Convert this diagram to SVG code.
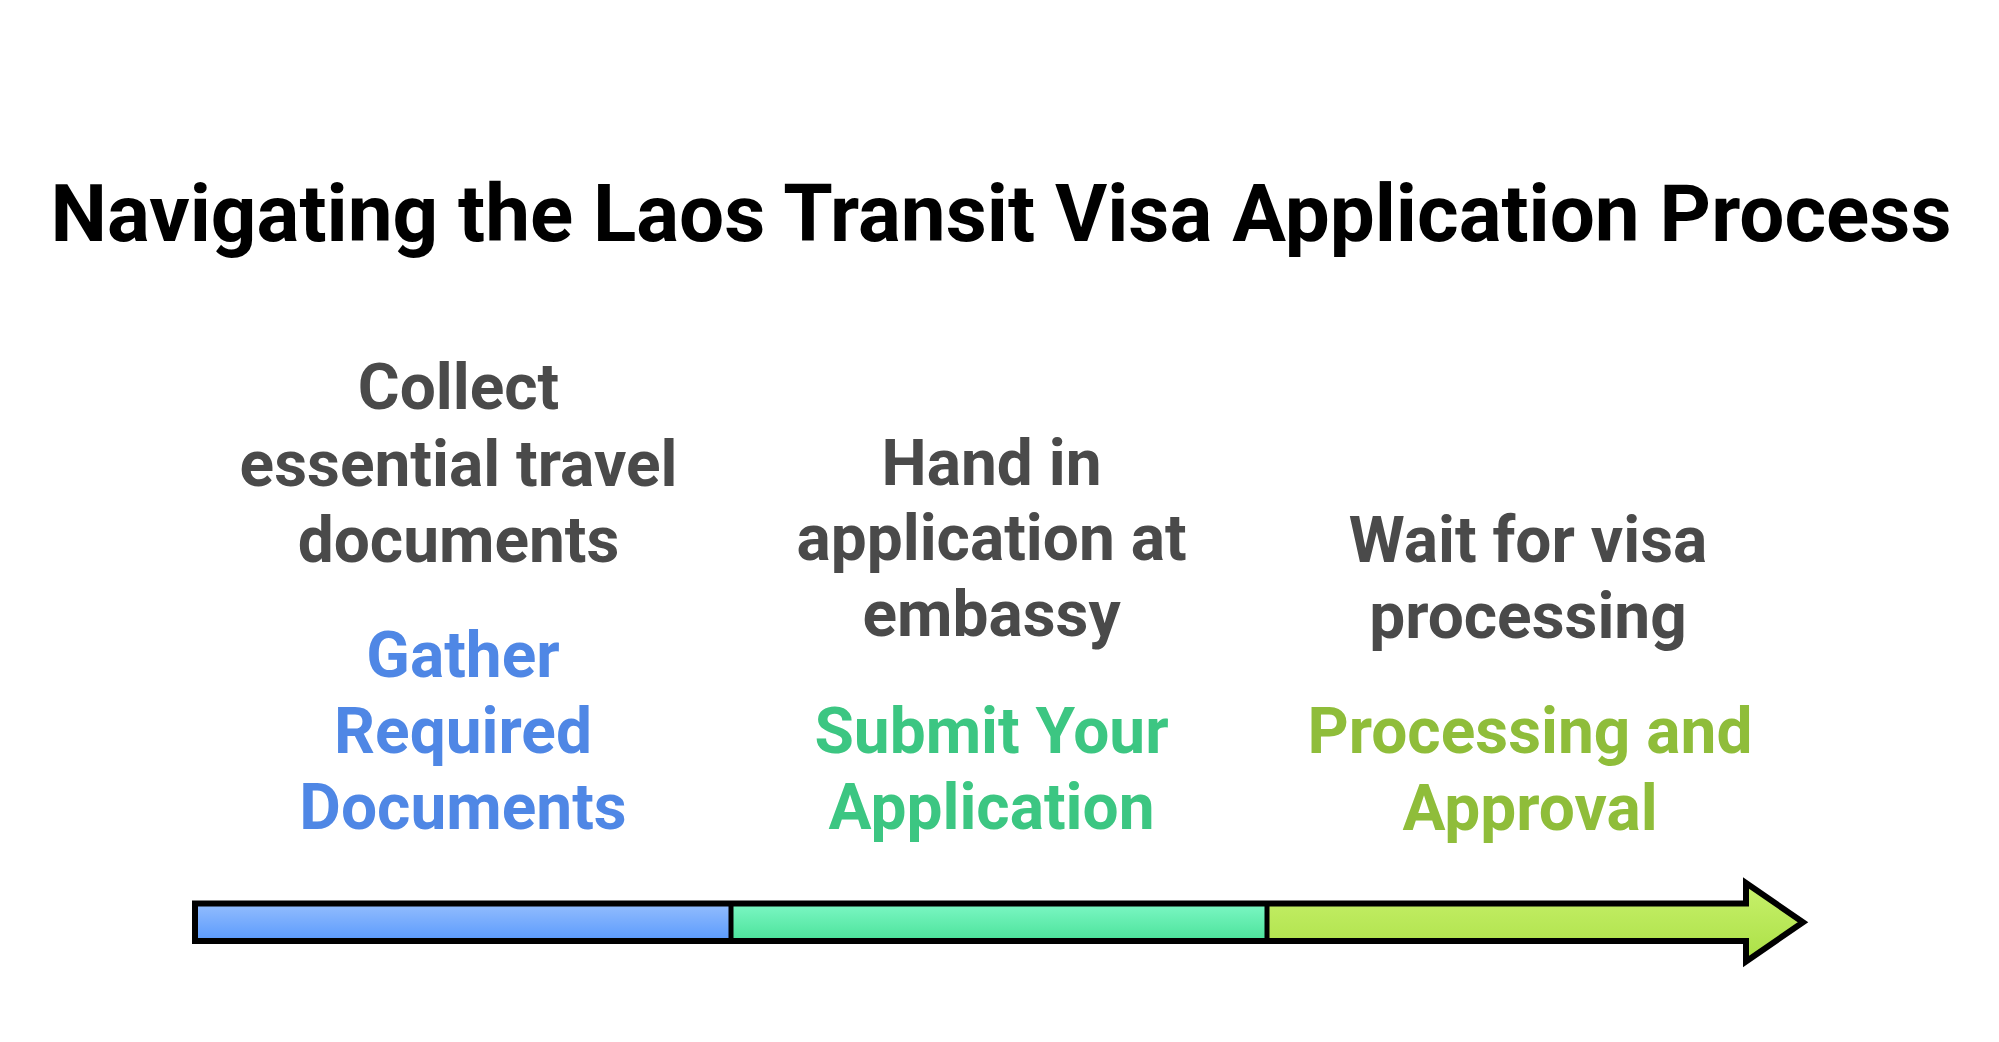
<svg xmlns="http://www.w3.org/2000/svg" width="1999" height="1042" viewBox="0 0 1999 1042">
  <defs>
    <linearGradient id="gBlue" x1="0" y1="0" x2="0" y2="1">
      <stop offset="0" stop-color="#93bdfd"/>
      <stop offset="1" stop-color="#5a9afd"/>
    </linearGradient>
    <linearGradient id="gGreen" x1="0" y1="0" x2="0" y2="1">
      <stop offset="0" stop-color="#7cf7c4"/>
      <stop offset="1" stop-color="#4be29a"/>
    </linearGradient>
    <linearGradient id="gLime" x1="0" y1="0" x2="0" y2="1">
      <stop offset="0" stop-color="#c8f16c"/>
      <stop offset="1" stop-color="#abe046"/>
    </linearGradient>
  </defs>
  <style>
    text { font-family: Roboto, "Liberation Sans", sans-serif; font-weight: bold; text-anchor: middle; }
    .title { font-size: 80px; fill: #000000; }
    .desc { font-size: 64px; fill: #4a4a4a; }
    .blue { font-size: 64px; fill: #4f87e5; }
    .green { font-size: 64px; fill: #3cc682; }
    .lime { font-size: 64px; fill: #8fbd3a; }
    .outline { fill: none; stroke: #000000; stroke-width: 6; stroke-linejoin: miter; }
    .divider { stroke: #000000; stroke-width: 5; }
  </style>
  <rect width="1999" height="1042" fill="#ffffff"/>
  <text class="title" x="1001" y="240.7">Navigating the Laos Transit Visa Application Process</text>

  <g id="connectors">
    <rect x="195" y="903.5" width="536" height="37.5" fill="url(#gBlue)"/>
    <rect x="731" y="903.5" width="536" height="37.5" fill="url(#gGreen)"/>
    <path d="M1267,903.5 H1746 V883 L1803,922.25 L1746,961.5 V941 H1267 Z" fill="url(#gLime)"/>
    <line class="divider" x1="731" y1="903.5" x2="731" y2="941"/>
    <line class="divider" x1="1267" y1="903.5" x2="1267" y2="941"/>
    <path class="outline" d="M195,903.5 H1746 V883 L1803,922.25 L1746,961.5 V941 H195 Z"/>
  </g>

  <g id="step1">
    <text class="desc" x="458.5" y="409">Collect</text>
    <text class="desc" x="458.5" y="485.5">essential travel</text>
    <text class="desc" x="458.5" y="561.7">documents</text>
    <text class="blue" x="463" y="676.7">Gather</text>
    <text class="blue" x="463" y="753">Required</text>
    <text class="blue" x="463" y="829">Documents</text>
  </g>

  <g id="step2">
    <text class="desc" x="991.5" y="485">Hand in</text>
    <text class="desc" x="991.5" y="560">application at</text>
    <text class="desc" x="991.5" y="635.5">embassy</text>
    <text class="green" x="991.5" y="753.3">Submit Your</text>
    <text class="green" x="991.5" y="829">Application</text>
  </g>

  <g id="step3">
    <text class="desc" x="1528" y="561.7">Wait for visa</text>
    <text class="desc" x="1528" y="638">processing</text>
    <text class="lime" x="1530" y="753.3">Processing and</text>
    <text class="lime" x="1530" y="830">Approval</text>
  </g>
</svg>
